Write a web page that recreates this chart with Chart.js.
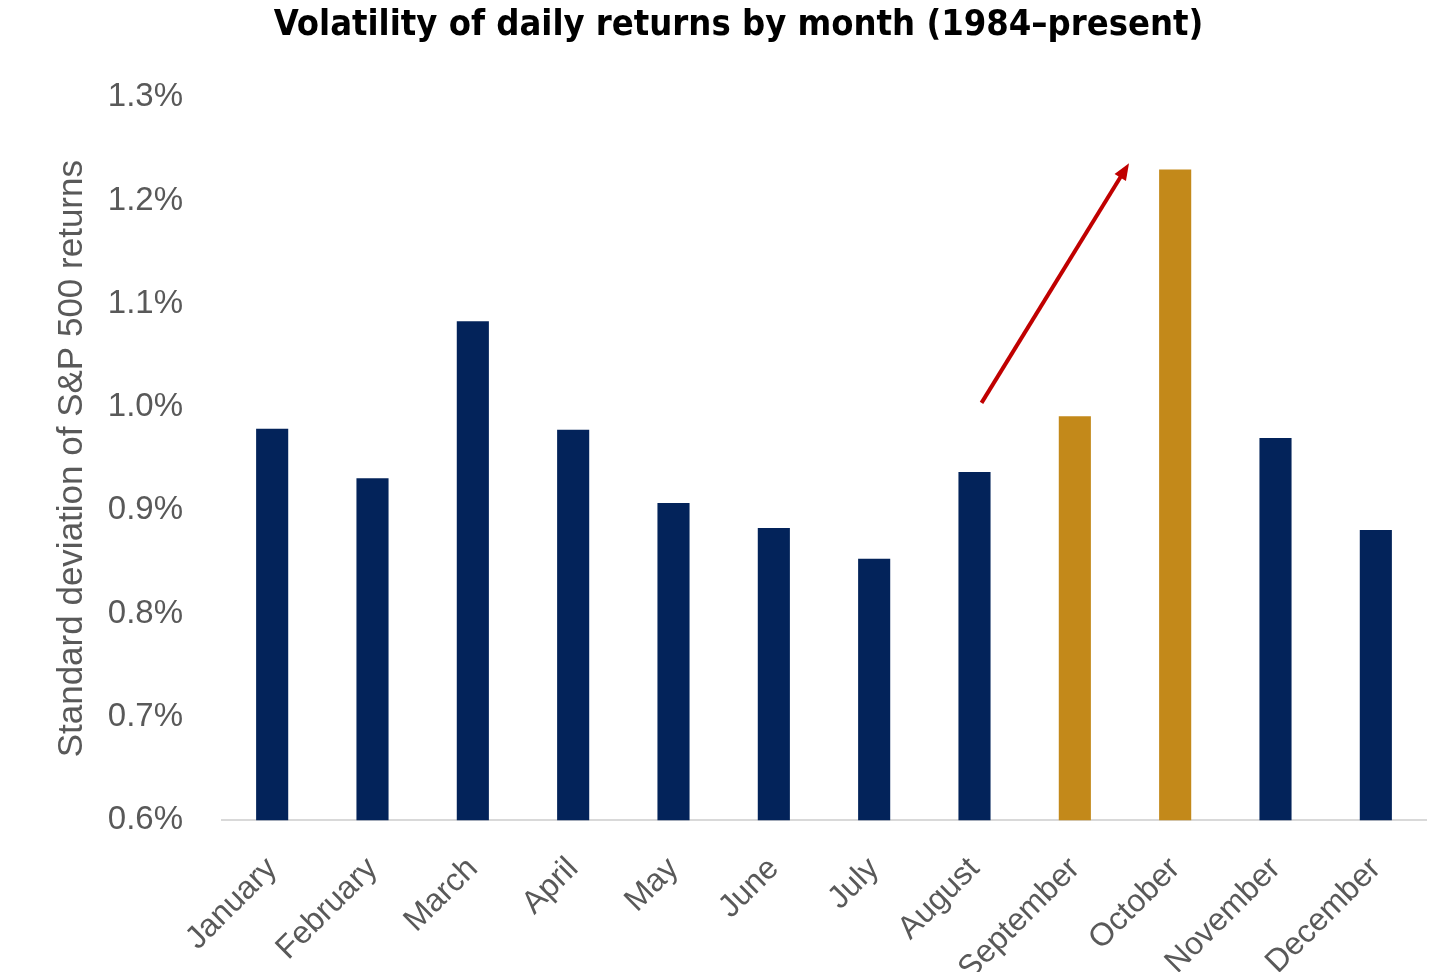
<!DOCTYPE html>
<html>
<head>
<meta charset="utf-8">
<script src="https://cdn.jsdelivr.net/npm/chart.js@4.4.1/dist/chart.umd.min.js"></script>
<style>
  html, body { margin: 0; padding: 0; background: #fff; overflow: hidden; }
  #wrap { width: 1456px; height: 972px; overflow: hidden; }
</style>
</head>
<body>
<div id="wrap"><canvas id="chart" width="1456" height="1018"></canvas></div>
<script>
const months = ['January', 'February', 'March', 'April', 'May', 'June',
  'July', 'August', 'September', 'October', 'November', 'December']
// standard deviation of daily S&P 500 returns, in percent
const volatility = [0.979, 0.931, 1.083, 0.978, 0.907, 0.883,
  0.853, 0.937, 0.991, 1.230, 0.970, 0.881]
const highlighted = ['September', 'October']
const yTicks = [0.6, 0.7, 0.8, 0.9, 1.0, 1.1, 1.2, 1.3]
// arrow annotation, in data units: [category index, value]
const arrowFrom = [7.07, 1.004]
const arrowTo = [8.54, 1.236]

const navy = '#03235a'
const gold = '#c3891a'

const arrowPlugin = {
  id: 'arrow',
  afterDatasetsDraw(chart) {
    const { ctx, scales: { x, y } } = chart
    const x0 = x.getPixelForValue(arrowFrom[0]), y0 = y.getPixelForValue(arrowFrom[1])
    const x1 = x.getPixelForValue(arrowTo[0]), y1 = y.getPixelForValue(arrowTo[1])
    const ang = Math.atan2(y1 - y0, x1 - x0)
    const head = 18
    ctx.save()
    ctx.strokeStyle = '#c00000'
    ctx.fillStyle = '#c00000'
    ctx.lineWidth = 4
    ctx.beginPath()
    ctx.moveTo(x0, y0)
    ctx.lineTo(x1 - Math.cos(ang) * head * 0.8, y1 - Math.sin(ang) * head * 0.8)
    ctx.stroke()
    ctx.beginPath()
    ctx.moveTo(x1, y1)
    ctx.lineTo(x1 - head * Math.cos(ang - 0.38), y1 - head * Math.sin(ang - 0.38))
    ctx.lineTo(x1 - head * Math.cos(ang + 0.38), y1 - head * Math.sin(ang + 0.38))
    ctx.closePath()
    ctx.fill()
    ctx.restore()
  }
}

new Chart(document.getElementById('chart'), {
  type: 'bar',
  data: {
    labels: months,
    datasets: [{
      label: 'Volatility',
      data: volatility,
      backgroundColor: months.map(m => highlighted.includes(m) ? gold : navy),
      barPercentage: 0.32,
      categoryPercentage: 1.0
    }]
  },
  plugins: [arrowPlugin],
  options: {
    responsive: false,
    animation: false,
    layout: { padding: { left: 51, right: 30, top: 0, bottom: 0 } },
    plugins: {
      legend: { display: false },
      tooltip: { enabled: false },
      title: {
        display: true,
        text: 'Volatility of daily returns by month (1984–present)',
        color: '#000',
        font: { family: "'DejaVu Sans Condensed', 'DejaVu Sans'", size: 36, weight: 'bold' },
        padding: { top: 4, bottom: 50 }
      }
    },
    scales: {
      x: {
        grid: { display: false, drawTicks: false },
        border: { display: true, color: '#d9d9d9', width: 2 },
        afterFit(scale) { scale.paddingLeft = 0; scale.paddingRight = 0 },
        ticks: {
          color: '#595959',
          font: { family: 'Liberation Sans', size: 32 },
          minRotation: 45,
          maxRotation: 45,
          padding: 30
        }
      },
      y: {
        min: 0.6,
        max: 1.3,
        afterBuildTicks(axis) { axis.ticks = yTicks.map(v => ({ value: v })) },
        afterFit(scale) { scale.width = 171 },
        grid: { display: false, drawTicks: false },
        border: { display: false },
        title: {
          display: true,
          text: 'Standard deviation of S&P 500 returns',
          color: '#595959',
          font: { family: 'Liberation Sans', size: 35 },
          padding: { top: 0, bottom: 0 }
        },
        ticks: {
          color: '#595959',
          font: { family: 'Liberation Sans', size: 33 },
          padding: 39,
          callback: v => v.toFixed(1) + '%'
        }
      }
    }
  }
})
</script>
</body>
</html>
